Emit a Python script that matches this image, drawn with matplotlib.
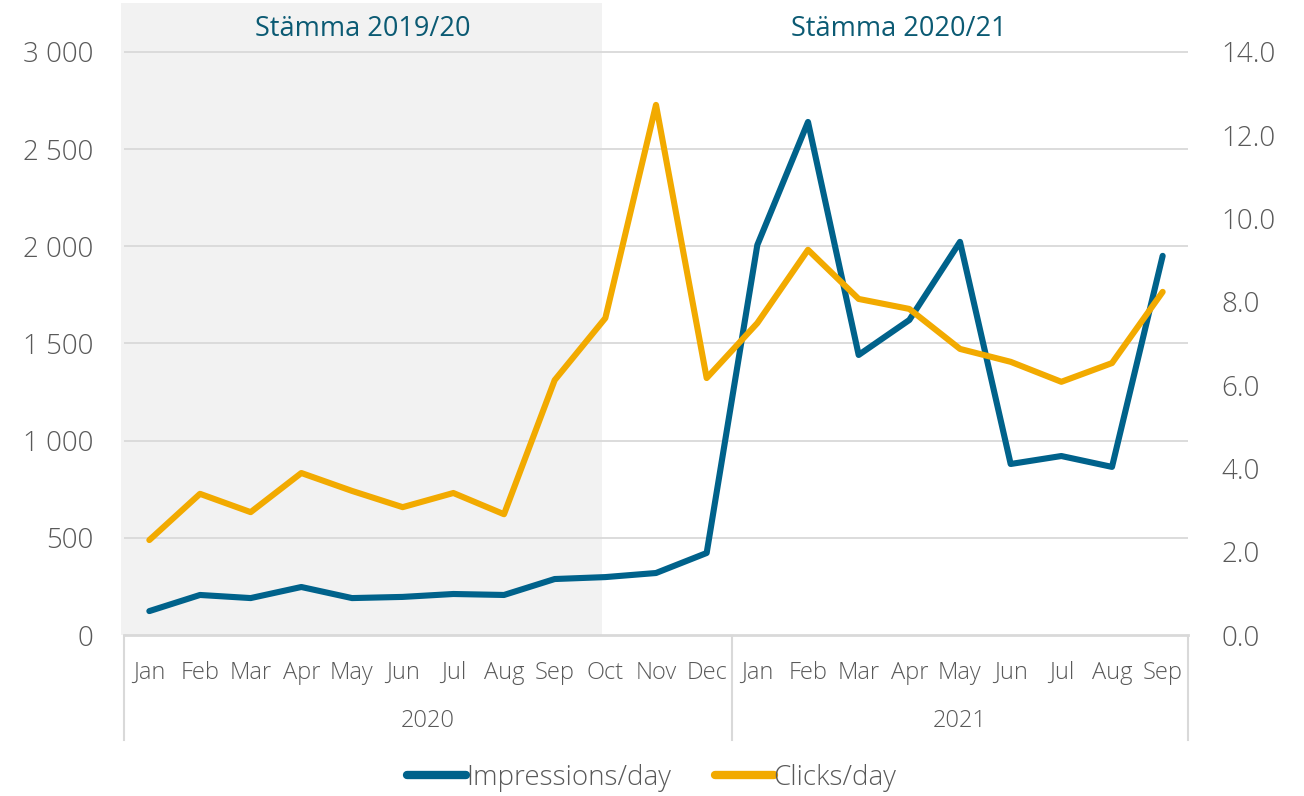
import matplotlib
matplotlib.use("Agg")
import matplotlib.pyplot as plt
from matplotlib.lines import Line2D
from matplotlib.patches import Rectangle
import matplotlib.transforms as mtransforms

plt.rcParams['font.family'] = ['Open Sans', 'DejaVu Sans']
plt.rcParams['font.weight'] = 'light'

months = ["Jan", "Feb", "Mar", "Apr", "May", "Jun", "Jul", "Aug", "Sep", "Oct", "Nov", "Dec",
          "Jan", "Feb", "Mar", "Apr", "May", "Jun", "Jul", "Aug", "Sep"]
years = ["2020", "2021"]
months_per_year = [12, 9]
impressions = [123, 206, 190, 247, 190, 196, 211, 206, 288, 298, 319, 422,
               2007, 2640, 1441, 1621, 2023, 880, 921, 865, 1951]
clicks = [2.28, 3.39, 2.95, 3.89, 3.46, 3.07, 3.41, 2.90, 6.12, 7.61, 12.73, 6.17,
          7.49, 9.25, 8.07, 7.83, 6.87, 6.56, 6.08, 6.53, 8.24]
season_labels = ["Stämma 2019/20", "Stämma 2020/21"]

TEAL = "#00628b"
ORANGE = "#f2aa00"
GRAY_TEXT = "#595959"
GRID = "#d9d9d9"
TITLE_C = "#0b5a73"

fig = plt.figure(figsize=(13.04, 7.96), dpi=100)
L, R, B, T = 124/1304, 1188/1304, (796-635)/796, (796-3)/796
ax = fig.add_axes([L, B, R-L, T-B])
ax2 = ax.twinx()

n = len(months)
x = list(range(n))
ax.set_xlim(-0.5, n-0.5)
ytop = 3000 * (635-3) / 583
ax.set_ylim(0, ytop)
ax2.set_ylim(0, 14 * (635-3) / 583)

# shaded season area
shade_end = 8.93
ax.add_patch(Rectangle((-0.55, 0), shade_end + 0.55, ytop, facecolor="#f2f2f2",
                       edgecolor="none", zorder=0, clip_on=False))

yt = [0, 500, 1000, 1500, 2000, 2500, 3000]
ax.set_yticks(yt)
ax.set_yticklabels(["0", "500", "1 000", "1 500", "2 000", "2 500", "3 000"])
yt2 = [0, 2, 4, 6, 8, 10, 12, 14]
ax2.set_yticks(yt2)
ax2.set_yticklabels([f"{v:.1f}" for v in yt2])
for v in yt[1:]:
    ax.axhline(v, color=GRID, lw=1.3, zorder=1)

for a in (ax, ax2):
    for s in a.spines.values():
        s.set_visible(False)
    a.tick_params(axis='y', length=0, labelsize=20, labelcolor=GRAY_TEXT)
ax.tick_params(axis='y', pad=22)
ax2.tick_params(axis='y', pad=24)

ax.plot(x, impressions, color=TEAL, lw=4.4, solid_capstyle='round', solid_joinstyle='round', zorder=3)
ax2.plot(x, clicks, color=ORANGE, lw=4.4, solid_capstyle='round', solid_joinstyle='round', zorder=3)
ax2.set_zorder(ax.get_zorder() + 1)
ax.patch.set_visible(False)

# x axis: months
ax.set_xticks(x)
ax.set_xticklabels(months)
ax.tick_params(axis='x', length=0, labelsize=17, labelcolor=GRAY_TEXT, pad=18.5)

# axis line & separators
ax.axhline(0, color=GRID, lw=2, zorder=2, clip_on=False)
trans = mtransforms.blended_transform_factory(ax.transData, fig.transFigure)
bounds = [-0.5]
for m in months_per_year:
    bounds.append(bounds[-1] + m)
for b in bounds:
    fig.add_artist(Line2D([b, b], [(796-636)/796, (796-740)/796], transform=trans,
                          color=GRID, lw=1.5))
for i, yl in enumerate(years):
    c = (bounds[i] + bounds[i+1]) / 2
    fig.text(c, (796-721)/796, yl, transform=trans, ha='center', va='center',
             fontsize=17, color=GRAY_TEXT)

# season titles
ax.text((-0.5 + shade_end) / 2, (796-29)/796, season_labels[0], transform=trans,
        ha='center', va='center', fontsize=19.5, color=TITLE_C, fontweight='normal')
ax.text((shade_end + n - 0.5) / 2 + 0.08, (796-29)/796, season_labels[1], transform=trans,
        ha='center', va='center', fontsize=19.5, color=TITLE_C, fontweight='normal')

handles = [Line2D([], [], color=TEAL, lw=6, solid_capstyle='round'),
           Line2D([], [], color=ORANGE, lw=6, solid_capstyle='round')]
fig.legend(handles, ["Impressions/day", "Clicks/day"], loc='center',
           bbox_to_anchor=(0.5, (796-778)/796), ncol=2, frameon=False,
           fontsize=20, labelcolor=GRAY_TEXT, handlelength=2.1, handletextpad=0.0,
           columnspacing=1.6)

fig.savefig("out.png", dpi=100)
